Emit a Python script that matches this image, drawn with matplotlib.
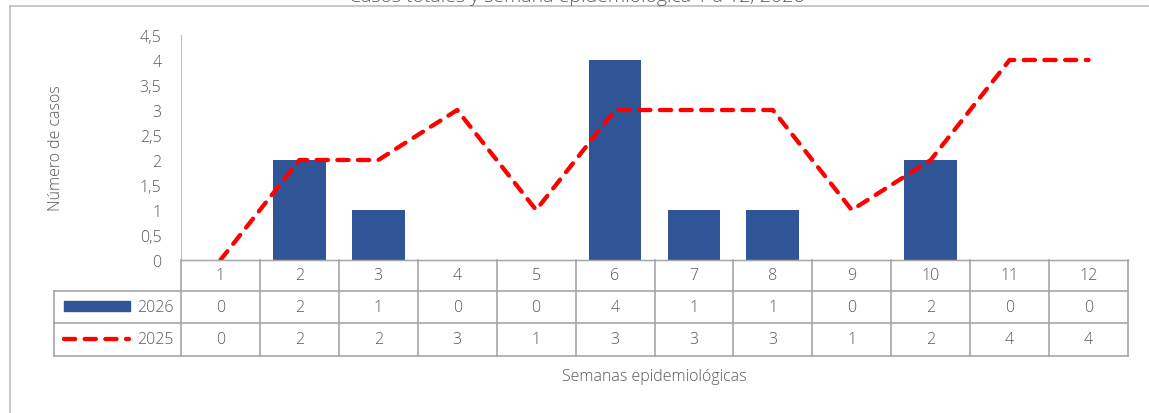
import matplotlib
matplotlib.use("Agg")
import matplotlib.pyplot as plt
from matplotlib.lines import Line2D
from matplotlib.patches import Rectangle
import matplotlib.transforms as mtransforms

weeks = ["1", "2", "3", "4", "5", "6", "7", "8", "9", "10", "11", "12"]
cases_2026 = [0, 2, 1, 0, 0, 4, 1, 1, 0, 2, 0, 0]
cases_2025 = [0, 2, 2, 3, 1, 3, 3, 3, 1, 2, 4, 4]
series_names = ["2026", "2025"]
yticks = [0, 0.5, 1, 1.5, 2, 2.5, 3, 3.5, 4, 4.5]
ytick_labels = ["0", "0,5", "1", "1,5", "2", "2,5", "3", "3,5", "4", "4,5"]
title = "Casos totales y semana epidemiológica 1 a 12, 2026"
ylabel = "Número de casos"
xlabel = "Semanas epidemiológicas"

plt.rcParams['font.family'] = ['Open Sans', 'DejaVu Sans']
W, H = 1149, 414
fig = plt.figure(figsize=(W / 100, H / 100), dpi=100)

BLUE = "#2F5597"
RED = "#FF0000"
GRID = "#A6A6A6"
TXT = "#595959"
FW = 'light'

x0, x1 = 181, 1128
y0, y1 = 261, 36
ax = fig.add_axes([x0 / W, 1 - y0 / H, (x1 - x0) / W, (y0 - y1) / H])
xs = list(range(len(weeks)))
ax.bar(xs, cases_2026, width=0.67, color=BLUE, zorder=2)
ln, = ax.plot(xs, cases_2025, color=RED, lw=3.1, zorder=3,
              dash_capstyle='round', solid_capstyle='round')
ln.set_dashes((2.6, 2.2))
ax.set_xlim(-0.5, len(weeks) - 0.5)
ax.set_ylim(0, 4.5)
ax.set_yticks(yticks)
ax.set_yticklabels(ytick_labels, fontsize=11.5, color=TXT, fontweight=FW)
ax.tick_params(axis='y', length=0, pad=14)
ax.set_xticks([])
for s in ['top', 'right']:
    ax.spines[s].set_visible(False)
ax.spines['left'].set_color("#BFBFBF")
ax.spines['bottom'].set_color(GRID)
ax.set_ylabel(ylabel, fontsize=11.5, color=TXT, fontweight=FW)
ax.yaxis.set_label_coords(-(x0 - 64) / (x1 - x0), 0.5)

# data table below axis (x in data coords, y in figure pixels)
trans = mtransforms.blended_transform_factory(ax.transData, fig.transFigure)
def fy(py):
    return 1 - py / H
r0, r1, r2, r3 = 261, 292, 324, 357
legx0 = 54
fig.add_artist(Line2D([x0 / W, x1 / W], [fy(r0)] * 2, color=GRID, lw=1))
for r in (r1, r2, r3):
    fig.add_artist(Line2D([legx0 / W, x1 / W], [fy(r)] * 2, color=GRID, lw=1.2))
fig.add_artist(Line2D([legx0 / W] * 2, [fy(r1), fy(r3)], color=GRID, lw=1.2))
for i in range(len(weeks) + 1):
    xb = i - 0.5
    ax.add_line(Line2D([xb, xb], [fy(r0), fy(r3)], transform=trans,
                       color=GRID, lw=1.2, clip_on=False))
for i, w in enumerate(weeks):
    ax.text(i, fy((r0 + r1) / 2), w, transform=trans, ha='center', va='center',
            fontsize=11.5, color=TXT, fontweight=FW)
    ax.text(i, fy((r1 + r2) / 2), str(cases_2026[i]), transform=trans,
            ha='center', va='center', fontsize=11.5, color=TXT, fontweight=FW)
    ax.text(i, fy((r2 + r3) / 2), str(cases_2025[i]), transform=trans,
            ha='center', va='center', fontsize=11.5, color=TXT, fontweight=FW)
# legend keys
fig.add_artist(Rectangle((64 / W, fy(312)), 66 / W, 10 / H, color=BLUE,
                         transform=fig.transFigure))
lk = Line2D([64 / W, 129 / W], [fy(340)] * 2, color=RED, lw=3.1,
            dash_capstyle='round')
lk.set_dashes((2.6, 2.2))
fig.add_artist(lk)
fig.text(174 / W, fy((r1 + r2) / 2), series_names[0], ha='right', va='center',
         fontsize=11.5, color=TXT, fontweight=FW)
fig.text(174 / W, fy((r2 + r3) / 2), series_names[1], ha='right', va='center',
         fontsize=11.5, color=TXT, fontweight=FW)

fig.text(654 / W, fy(377), xlabel, ha='center', va='center', fontsize=11.5,
         color=TXT, fontweight=FW)

# outer frame and clipped title
fig.add_artist(Line2D([10 / W, 1], [fy(7)] * 2, color="#BFBFBF", lw=1.2))
fig.add_artist(Line2D([10 / W] * 2, [fy(7), 0], color="#BFBFBF", lw=1.2))
fig.text(577 / W, fy(2), title, ha='center', va='baseline', fontsize=14,
         color=TXT, fontweight=FW)

fig.savefig("out.png", dpi=100)
